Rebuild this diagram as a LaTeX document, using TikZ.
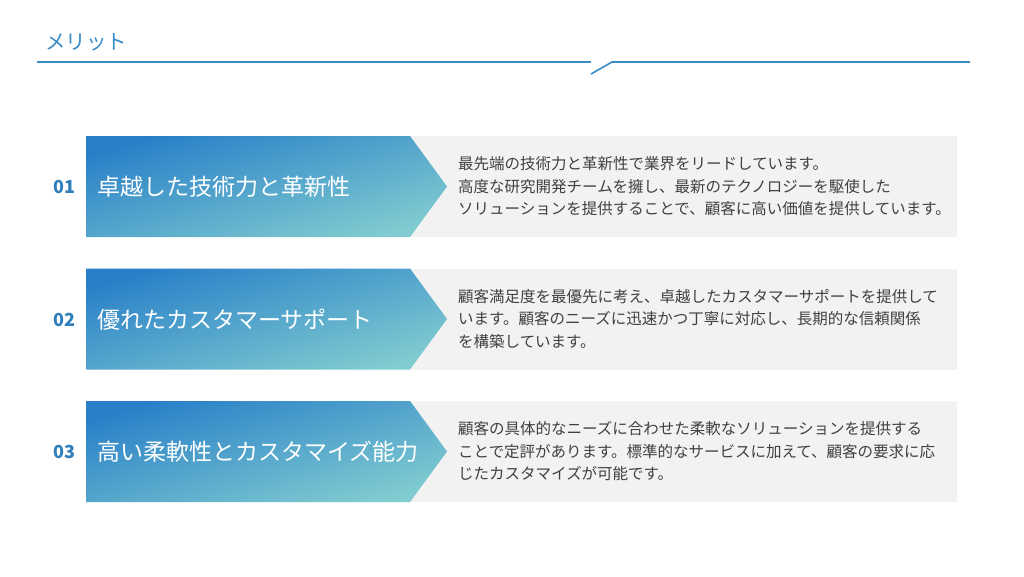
\documentclass[tikz,border=0pt]{standalone}
\usepackage{fontspec}
\setmainfont{Noto Sans CJK JP}
\usetikzlibrary{positioning}
\definecolor{meritblue}{HTML}{3A8CC4}
\definecolor{numblue}{HTML}{2F80BA}
\definecolor{arrowdark}{HTML}{2A80C8}
\definecolor{arrowlight}{HTML}{80CCD0}
\definecolor{panelgray}{HTML}{F2F2F2}
\definecolor{desctext}{HTML}{404040}
\tikzset{
  headline/.style={draw=meritblue, line width=1.6pt},
  panel/.style={fill=panelgray, draw=none},
  chevron/.style={draw=none, top color=arrowdark, bottom color=arrowlight, shading angle=16},
  numlabel/.style={text=numblue, font=\fontsize{18}{20}\selectfont\bfseries, inner sep=0pt},
  titlelabel/.style={text=white, anchor=west, font=\fontsize{23}{26}\selectfont, inner sep=0pt},
  desclabel/.style={text=desctext, anchor=west, align=left, font=\fontsize{15.5}{22.5}\selectfont, inner sep=0pt}
}
\begin{document}
\begin{tikzpicture}[x=1pt, y=-1pt]
			%%%%% START %%%%%
			\useasboundingbox[fill=white] (0, 0) rectangle (1024, 576);
			
			\node[anchor=west, text=meritblue, font=\fontsize{20.5}{22}\selectfont, inner sep=0pt] (heading) at (45, 42) {メリット};
			\draw[headline] (37, 62) -- (591, 62);
			\draw[headline] (591, 74) -- (612, 62) -- (970, 62);
			
			% row 01
			\fill[panel] (408, 136) rectangle (957, 237);
			\shade[chevron] (86, 136) -- (410, 136) -- (447, 186.5) -- (410, 237) -- (86, 237) -- cycle;
			\node[numlabel] (num01) at (64, 187) {01};
			\node[titlelabel] (title01) at (97, 187) {卓越した技術力と革新性};
			\node[desclabel] (desc01) at (458, 186.5) {最先端の技術力と革新性で業界をリードしています。\\高度な研究開発チームを擁し、最新のテクノロジーを駆使した\\ソリューションを提供することで、顧客に高い価値を提供しています。};
			
			% row 02
			\fill[panel] (408, 268.5) rectangle (957, 369.5);
			\shade[chevron] (86, 268.5) -- (410, 268.5) -- (447, 319) -- (410, 369.5) -- (86, 369.5) -- cycle;
			\node[numlabel] (num02) at (64, 319.5) {02};
			\node[titlelabel] (title02) at (97, 319.5) {優れたカスタマーサポート};
			\node[desclabel] (desc02) at (458, 319) {顧客満足度を最優先に考え、卓越したカスタマーサポートを提供して\\います。顧客のニーズに迅速かつ丁寧に対応し、長期的な信頼関係\\を構築しています。};
			
			% row 03
			\fill[panel] (408, 401) rectangle (957, 502);
			\shade[chevron] (86, 401) -- (410, 401) -- (447, 451.5) -- (410, 502) -- (86, 502) -- cycle;
			\node[numlabel] (num03) at (64, 452) {03};
			\node[titlelabel] (title03) at (97, 452) {高い柔軟性とカスタマイズ能力};
			\node[desclabel] (desc03) at (458, 451.5) {顧客の具体的なニーズに合わせた柔軟なソリューションを提供する\\ことで定評があります。標準的なサービスに加えて、顧客の要求に応\\じたカスタマイズが可能です。};
			
			%%%%% END %%%%%
\end{tikzpicture}
\end{document}
